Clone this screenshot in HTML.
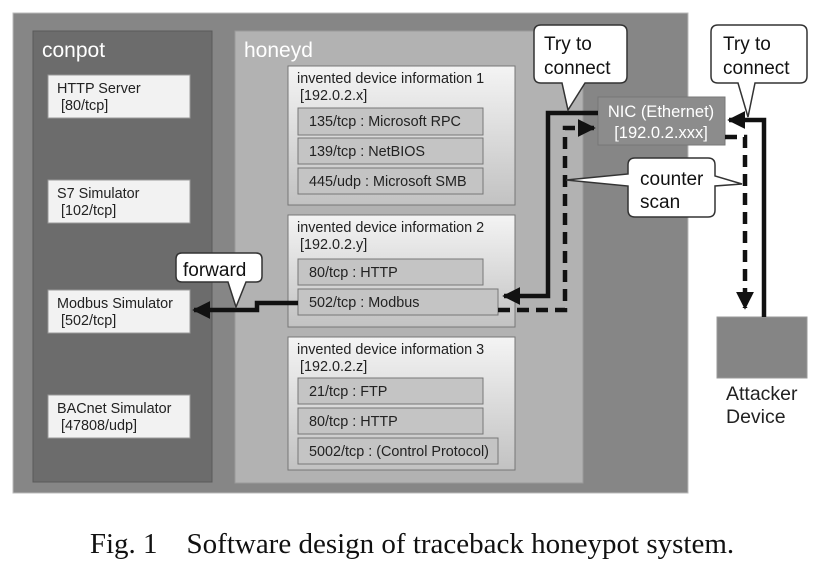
<!DOCTYPE html>
<html><head><meta charset="utf-8"><style>
html,body{margin:0;padding:0;background:#fff;}
svg{display:block;font-family:"Liberation Sans",sans-serif;}
</style></head><body>
<svg width="830" height="567" viewBox="0 0 830 567" xmlns="http://www.w3.org/2000/svg">
<defs>
<linearGradient id="dev" x1="0" y1="0" x2="0" y2="1"><stop offset="0" stop-color="#f4f4f4"/><stop offset="1" stop-color="#c2c2c2"/></linearGradient>
<marker id="ah" viewBox="0 0 10 10" refX="9" refY="5" markerWidth="4" markerHeight="4" orient="auto"><path d="M0,0 L10,5 L0,10 z" fill="#111"/></marker>
</defs>
<rect x="13" y="13" width="675" height="480" fill="#868686" stroke="#bbb"/>
<rect x="33" y="31" width="179" height="451" fill="#6c6c6c" stroke="#5a5a5a"/>
<rect x="235" y="31" width="348" height="452" fill="#b2b2b2" stroke="#9a9a9a"/>
<text x="42" y="57" font-size="21" fill="#fff">conpot</text>
<text x="244" y="57" font-size="21" fill="#fff">honeyd</text>
<g font-size="14.4" fill="#222">
<rect x="48" y="75" width="142" height="43" fill="#f2f2f2" stroke="#999"/>
<text x="57" y="93">HTTP Server</text><text x="61" y="110">[80/tcp]</text>
<rect x="48" y="180" width="142" height="43" fill="#f2f2f2" stroke="#999"/>
<text x="57" y="198">S7 Simulator</text><text x="61" y="215">[102/tcp]</text>
<rect x="48" y="290" width="142" height="43" fill="#f2f2f2" stroke="#999"/>
<text x="57" y="308">Modbus Simulator</text><text x="61" y="325">[502/tcp]</text>
<rect x="48" y="395" width="142" height="43" fill="#f2f2f2" stroke="#999"/>
<text x="57" y="413">BACnet Simulator</text><text x="61" y="430">[47808/udp]</text>

<rect x="288" y="66" width="227" height="139" fill="url(#dev)" stroke="#777"/>
<text x="297" y="83">invented device information 1</text><text x="300" y="100">[192.0.2.x]</text>
<rect x="298" y="108" width="185" height="27" fill="#c4c4c4" stroke="#777"/><text x="309" y="126">135/tcp : Microsoft RPC</text>
<rect x="298" y="138" width="185" height="26" fill="#c4c4c4" stroke="#777"/><text x="309" y="156">139/tcp : NetBIOS</text>
<rect x="298" y="168" width="185" height="26" fill="#c4c4c4" stroke="#777"/><text x="309" y="186">445/udp : Microsoft SMB</text>

<rect x="288" y="215" width="227" height="112" fill="url(#dev)" stroke="#777"/>
<text x="297" y="232">invented device information 2</text><text x="300" y="249">[192.0.2.y]</text>
<rect x="298" y="259" width="185" height="26" fill="#c4c4c4" stroke="#777"/><text x="309" y="277">80/tcp : HTTP</text>
<rect x="298" y="289" width="200" height="26" fill="#c4c4c4" stroke="#777"/><text x="309" y="307">502/tcp : Modbus</text>

<rect x="288" y="337" width="227" height="133" fill="url(#dev)" stroke="#777"/>
<text x="297" y="354">invented device information 3</text><text x="300" y="371">[192.0.2.z]</text>
<rect x="298" y="378" width="185" height="26" fill="#c4c4c4" stroke="#777"/><text x="309" y="396">21/tcp : FTP</text>
<rect x="298" y="408" width="185" height="26" fill="#c4c4c4" stroke="#777"/><text x="309" y="426">80/tcp : HTTP</text>
<rect x="298" y="438" width="200" height="26" fill="#c4c4c4" stroke="#777"/><text x="309" y="456">5002/tcp : (Control Protocol)</text>
</g>
<rect x="598" y="97" width="127" height="48" fill="#8c8c8c" stroke="#777"/>
<text x="661" y="117" font-size="16.5" fill="#fff" text-anchor="middle">NIC (Ethernet)</text>
<text x="661" y="138" font-size="16.5" fill="#fff" text-anchor="middle">[192.0.2.xxx]</text>
<rect x="717" y="317" width="90" height="61" fill="#858585" stroke="#999"/>
<text x="726" y="400" font-size="19.5" fill="#222">Attacker</text>
<text x="726" y="423" font-size="19.5" fill="#222">Device</text>

<g fill="none" stroke="#111" stroke-width="4.5">
<path d="M598,113 H548 V296 H504" marker-end="url(#ah)"/>
<path d="M498,310 H565 V128 H594" stroke-dasharray="12,7" marker-end="url(#ah)"/>
<path d="M764,317 V120 H729" marker-end="url(#ah)"/>
<path d="M725,137 H745 V308" stroke-dasharray="12,7" marker-end="url(#ah)"/>
<path d="M298,303 H257 V310 H194" marker-end="url(#ah)"/>
</g>

<g fill="#fff" stroke="#333" stroke-width="1.5">
<path d="M541,25 H620 Q627,25 627,32 V76 Q627,83 620,83 H585 L568,110 L562,83 H541 Q534,83 534,76 V32 Q534,25 541,25 Z"/>
<path d="M718,25 H800 Q807,25 807,32 V76 Q807,83 800,83 H755 L748,117 L738,83 H718 Q711,83 711,76 V32 Q711,25 718,25 Z"/>
<path d="M635,158 H708 Q715,158 715,165 V176 L742,184 L715,186 V210 Q715,217 708,217 H635 Q628,217 628,210 V186 L566,180 L628,174 V165 Q628,158 635,158 Z"/>
<path d="M182,253 H256 Q262,253 262,259 V276 Q262,282 256,282 H246 L236,307 L228,282 H182 Q176,282 176,276 V259 Q176,253 182,253 Z"/>
</g>
<g font-size="19" fill="#111">
<text x="544" y="50">Try to</text><text x="544" y="74">connect</text>
<text x="723" y="50">Try to</text><text x="723" y="74">connect</text>
<text x="640" y="185">counter</text><text x="640" y="208">scan</text>
<text x="183" y="276">forward</text>
</g>
<text x="412" y="553" font-family="Liberation Serif,serif" font-size="29" fill="#111" text-anchor="middle" xml:space="preserve">Fig. 1    Software design of traceback honeypot system.</text>
</svg>
</body></html>
